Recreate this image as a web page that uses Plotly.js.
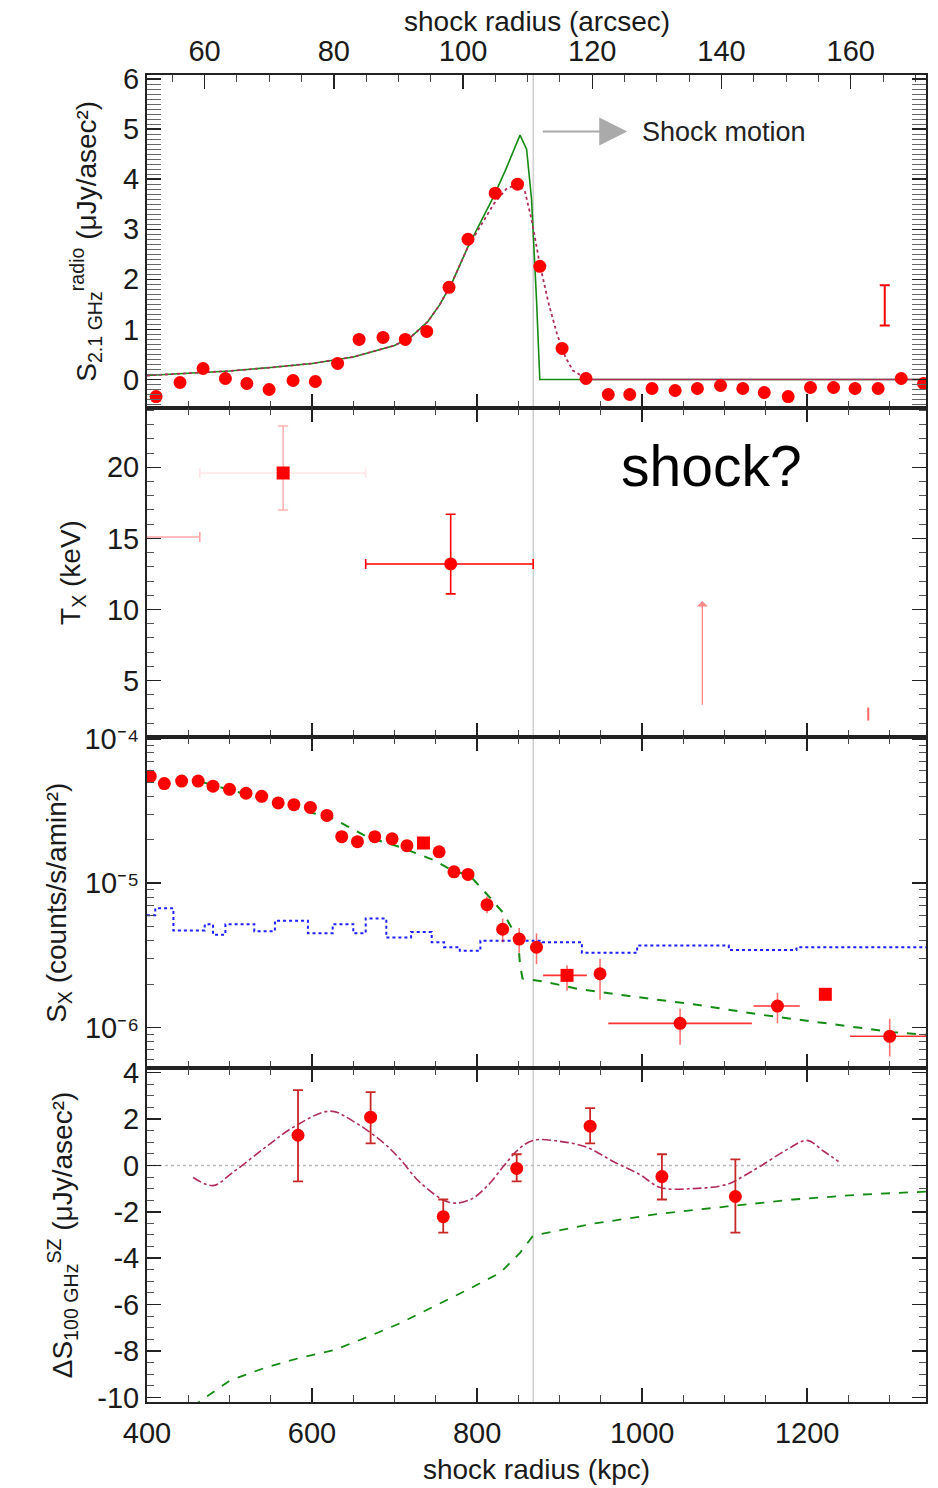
<!DOCTYPE html>
<html>
<head>
<meta charset="utf-8">
<script src="https://cdn.plot.ly/plotly-3.0.1.min.js"></script>
<style>
  html, body { margin: 0; padding: 0; background: #fff; }
  #chart { width: 938px; height: 1488px; }
</style>
</head>
<body>
<div id="chart"></div>
<script>
// ---------------- data ----------------
const kpcPerArcsec = 7.83;
const shockRadius = 868;             // kpc, vertical marker
const xRange = [400, 1344];

// Panel 1: radio surface brightness
const radX = [411,440,468,495,521,548,577,604,631,657,686,713,739,766,789,822,849,876,903,932,959,985,1012,1040,1067,1095,1122,1148,1177,1204,1232,1258,1286,1314,1341];
const radY = [-0.34,-0.06,0.22,0.02,-0.08,-0.2,-0.02,-0.04,0.32,0.80,0.84,0.80,0.96,1.84,2.8,3.72,3.9,2.26,0.62,0.02,-0.3,-0.3,-0.18,-0.22,-0.18,-0.12,-0.18,-0.26,-0.34,-0.16,-0.16,-0.18,-0.18,0.02,-0.08];
const radModX = [400,450,500,550,600,650,700,720,740,755,770,789,805,820,835,852,860,866,872,876,1344];
const radModY = [0.08,0.12,0.17,0.24,0.32,0.45,0.68,0.85,1.15,1.5,1.95,2.65,3.15,3.65,4.2,4.88,4.6,3.6,1.6,0,0];
const radConvX = [400,450,500,550,600,650,700,720,740,755,770,789,805,820,835,848,858,866,876,887,897,907,916,932];
const radConvY = [0.08,0.12,0.17,0.24,0.32,0.45,0.68,0.85,1.15,1.5,1.95,2.65,3.1,3.5,3.8,3.9,3.75,3.2,2.3,1.5,0.9,0.45,0.18,0.02];
const radFlatX = [932,1344];
const radFlatY = [0,0];
const radErrX = [1294];
const radErrY = [1.48];
const radErr = [0.4];

// Panel 2: temperature
const txX  = [340, 565, 768];
const txY  = [15.1, 19.6, 13.2];
const txXm = [0, 101, 103];
const txXp = [124, 100, 100];
const txYm = [0, 2.6, 2.1];
const txYp = [0, 3.3, 3.5];
const txSym = ['circle','square','circle'];
const txXcol = ['rgba(255,0,0,0.35)','rgba(255,0,0,0.10)','rgb(255,0,0)'];
const txYcol = ['rgba(255,0,0,0.35)','rgba(255,0,0,0.30)','rgb(255,0,0)'];
const ulX = [1073], ulLo = [2.7], ulHi = [10.6];
const limX = [1274], limLo = [2.2], limHi = [3.1];

// Panel 3: X-ray surface brightness
const sxX = [404,421,442,462,480,500,520,539,559,578,598,618,636,655,676,697,715,735,754,772,789,812,831,851,872,909,949,1046,1164,1222,1300];
const sxY = [5.5e-5,4.9e-5,5.1e-5,5.1e-5,4.7e-5,4.47e-5,4.2e-5,4.0e-5,3.6e-5,3.5e-5,3.35e-5,2.95e-5,2.1e-5,1.94e-5,2.1e-5,2.03e-5,1.82e-5,1.9e-5,1.65e-5,1.2e-5,1.15e-5,7.1e-6,4.8e-6,4.1e-6,3.6e-6,2.3e-6,2.36e-6,1.07e-6,1.41e-6,1.70e-6,8.7e-7];
const sxUp = [null,null,null,null,null,null,null,null,null,null,null,null,null,null,null,null,null,null,null,null,null,8.1e-6,5.7e-6,4.9e-6,4.5e-6,2.7e-6,3.0e-6,1.35e-6,1.74e-6,null,1.15e-6];
const sxDn = [null,null,null,null,null,null,null,null,null,null,null,null,null,null,null,null,null,null,null,null,null,6.2e-6,3.9e-6,3.3e-6,2.75e-6,1.8e-6,1.56e-6,7.6e-7,1.07e-6,null,6.3e-7];
const sxXlo = [null,null,null,null,null,null,null,null,null,null,null,null,null,null,null,null,null,null,null,null,null,null,null,null,null,880,null,959,1135,null,1252];
const sxXhi = [null,null,null,null,null,null,null,null,null,null,null,null,null,null,null,null,null,null,null,null,null,null,null,null,null,933,null,1133,1191,null,1348];
const sxSquare = [17, 25, 29];
const sxModX = [468,504,545,585,626,667,707,747,773,790,816,832,842,850,852,855,880,921,982,1062,1143,1224,1304,1344];
const sxModY = [5.0e-5,4.37e-5,3.8e-5,3.24e-5,2.8e-5,2.09e-5,1.78e-5,1.45e-5,1.2e-5,1.15e-5,7.9e-6,6.2e-6,4.9e-6,3.8e-6,2.75e-6,2.19e-6,2.09e-6,1.86e-6,1.66e-6,1.45e-6,1.23e-6,1.07e-6,9.3e-7,8.9e-7];
const bgX = [400,410,432,470,480,495,530,555,595,625,650,665,690,720,745,760,779,804,879,927,994,1105,1187,1344];
const bgY = [6.0e-6,6.7e-6,4.7e-6,5.2e-6,4.4e-6,5.2e-6,4.65e-6,5.5e-6,4.5e-6,5.2e-6,4.5e-6,5.7e-6,4.2e-6,4.6e-6,3.9e-6,3.6e-6,3.4e-6,4.0e-6,3.9e-6,3.3e-6,3.7e-6,3.45e-6,3.6e-6,3.6e-6];

// Panel 4: SZ decrement
const szX  = [583,671,759,848,937,1024,1113];
const szY  = [1.30,2.08,-2.21,-0.13,1.69,-0.48,-1.34];
const szHi = [3.25,3.16,-1.47,0.48,2.47,0.48,0.26];
const szLo = [-0.69,0.95,-2.9,-0.69,0.95,-1.47,-2.9];
const szModX = [456,480,504,545,577,622,650,686,707,731,767,792,812,832,850,868,900,933,965,997,1022,1062,1103,1122,1143,1176,1200,1220,1238];
const szModY = [-0.52,-0.87,-0.3,0.82,1.64,2.34,1.9,0.99,0.26,-0.74,-1.6,-1.47,-0.9,-0.04,0.69,1.08,1.04,0.78,0.17,-0.39,-0.95,-1.0,-0.82,-0.48,-0.04,0.69,1.08,0.61,0.17];
const szGrX = [455,501,545,585,626,667,707,747,788,828,852,867,873,941,1022,1103,1183,1264,1344];
const szGrY = [-10.4,-9.26,-8.7,-8.3,-7.97,-7.4,-6.8,-6.1,-5.37,-4.63,-3.77,-3.07,-2.99,-2.51,-2.08,-1.77,-1.47,-1.26,-1.13];
const zeroX = [400,1344], zeroY = [0,0];

const kpcTicks = [400,600,800,1000,1200];
const arcTicks = [60,80,100,120,140,160];
const radTicks = [0,1,2,3,4,5,6];
const txTicks = [5,10,15,20];
const sxTickVals = [1e-6,1e-5,1e-4];
const sxTickText = ['10⁻⁶','10⁻⁵','10⁻⁴'];
const szTicks = [-10,-8,-6,-4,-2,0,2,4];

// ---------------- styles ----------------
const RED = '#ff0000';
const GREEN = 'rgb(20,140,20)';
const PURPLE = 'rgb(175,45,95)';
const BLUE = 'rgb(30,30,255)';
const FONT = 'Liberation Sans, Arial, Helvetica, sans-serif';

const traces = [];

// Panel 1
traces.push({x: radModX, y: radModY, xaxis:'x', yaxis:'y', mode:'lines', line:{color:GREEN, width:1.6}, hoverinfo:'skip'});
traces.push({x: radConvX, y: radConvY, xaxis:'x', yaxis:'y', mode:'lines', line:{color:PURPLE, width:1.8, dash:'dot'}, hoverinfo:'skip'});
traces.push({x: radFlatX, y: radFlatY, xaxis:'x', yaxis:'y', mode:'lines', line:{color:PURPLE, width:1.6}, hoverinfo:'skip'});
traces.push({x: radX, y: radY, xaxis:'x', yaxis:'y', mode:'markers', marker:{color:RED, size:13, symbol:'circle'}});
traces.push({x: radErrX, y: radErrY, xaxis:'x', yaxis:'y', mode:'markers', marker:{size:1, color:'rgba(0,0,0,0)'},
  error_y:{type:'data', array: radErr, color:RED, thickness:2, width:5}});
// dummy for top arcsec axis
traces.push({x: arcTicks, y: arcTicks.map(()=>null), xaxis:'x5', yaxis:'y', mode:'markers', hoverinfo:'skip'});

// Panel 2
txX.forEach((_, i) => {
  traces.push({x: [txX[i]], y: [txY[i]], xaxis:'x2', yaxis:'y2', mode:'markers',
    marker:{color:RED, size:13, symbol: txSym[i]},
    error_x:{type:'data', symmetric:false, array:[txXp[i]], arrayminus:[txXm[i]], color:txXcol[i], thickness:1.6, width:5},
    error_y:{type:'data', symmetric:false, array:[txYp[i]], arrayminus:[txYm[i]], color:txYcol[i], thickness:1.6, width:5}});
});
traces.push({x: limX, y: limX.map((_,i)=>(limLo[i]+limHi[i])/2), xaxis:'x2', yaxis:'y2', mode:'markers',
  marker:{size:1, color:'rgba(0,0,0,0)'},
  error_y:{type:'data', array: limX.map((_,i)=>(limHi[i]-limLo[i])/2), color:'rgba(255,0,0,0.6)', thickness:2, width:0}});

// Panel 3
traces.push({x: bgX, y: bgY, xaxis:'x3', yaxis:'y3', mode:'lines', line:{color:BLUE, width:2, dash:'dot', shape:'hv'}, hoverinfo:'skip'});
traces.push({x: sxModX, y: sxModY, xaxis:'x3', yaxis:'y3', mode:'lines', line:{color:GREEN, width:2, dash:'dash'}, hoverinfo:'skip'});
traces.push({x: sxX, y: sxY, xaxis:'x3', yaxis:'y3', mode:'markers',
  marker:{color:RED, size:13, symbol: sxX.map((_,i)=> sxSquare.includes(i) ? 'square' : 'circle')},
  error_y:{type:'data', symmetric:false, array: sxY.map((v,i)=> sxUp[i]==null ? 0 : sxUp[i]-v), arrayminus: sxY.map((v,i)=> sxDn[i]==null ? 0 : v-sxDn[i]),
    color:'rgba(255,0,0,0.55)', thickness:1.6, width:0},
  error_x:{type:'data', symmetric:false, array: sxX.map((v,i)=> sxXhi[i]==null ? 0 : sxXhi[i]-v), arrayminus: sxX.map((v,i)=> sxXlo[i]==null ? 0 : v-sxXlo[i]),
    color:'rgba(255,0,0,0.8)', thickness:1.6, width:0}});

// Panel 4
traces.push({x: zeroX, y: zeroY, xaxis:'x4', yaxis:'y4', mode:'lines', line:{color:'#bbbbbb', width:1.5, dash:'dot'}, hoverinfo:'skip'});
traces.push({x: szGrX, y: szGrY, xaxis:'x4', yaxis:'y4', mode:'lines', line:{color:GREEN, width:1.8, dash:'dash'}, hoverinfo:'skip'});
traces.push({x: szModX, y: szModY, xaxis:'x4', yaxis:'y4', mode:'lines', line:{color:PURPLE, width:1.6, dash:'dashdot', shape:'spline'}, hoverinfo:'skip'});
traces.push({x: szX, y: szY, xaxis:'x4', yaxis:'y4', mode:'markers', marker:{color:RED, size:13},
  error_y:{type:'data', symmetric:false, array: szY.map((v,i)=>szHi[i]-v), arrayminus: szY.map((v,i)=>v-szLo[i]),
    color:'rgb(200,40,40)', thickness:1.8, width:5}});

// ---------------- layout ----------------
const tickFont = {family: FONT, size: 29, color: '#1a1a1a'};
const titleFont = {family: FONT, size: 28, color: '#1a1a1a'};
const minorX = {ticks:'inside', ticklen:7, tickwidth:1, tickcolor:'#444', dtick:50};
function ax(extra) {
  return Object.assign({
    showline:true, linecolor:'#222', linewidth:2, mirror:'allticks',
    ticks:'inside', ticklen:14, tickwidth:1.5, tickcolor:'#222',
    showgrid:false, zeroline:false, tickfont: tickFont,
    minor:{ticks:'inside', ticklen:7, tickwidth:1, tickcolor:'#555', showgrid:false}
  }, extra);
}
const b1 = 0.7494, b2 = 0.5008, b3 = 0.2517;

const layout = {
  width: 938, height: 1488,
  margin: {l:147, r:12, t:75, b:86},
  paper_bgcolor:'#fff', plot_bgcolor:'#fff',
  showlegend:false,
  font:{family: FONT, color:'#1a1a1a'},
  xaxis:  ax({anchor:'y',  range:xRange, tickvals:kpcTicks, showticklabels:false, mirror:false, minor:minorX}),
  xaxis2: ax({anchor:'y2', matches:'x', tickvals:kpcTicks, showticklabels:false, minor:minorX}),
  xaxis3: ax({anchor:'y3', matches:'x', tickvals:kpcTicks, showticklabels:false, minor:minorX}),
  xaxis4: ax({anchor:'y4', matches:'x', tickvals:kpcTicks, ticktext:kpcTicks.map(String), mirror:'allticks',
    ticklabelstandoff:4, minor:minorX,
    title:{text:'shock radius (kpc)', font:titleFont, standoff:12}}),
  xaxis5: ax({anchor:'y', overlaying:'x', side:'top', mirror:false, range:[xRange[0]/kpcPerArcsec, xRange[1]/kpcPerArcsec],
    tickvals:arcTicks, ticktext:arcTicks.map(String),
    minor:{ticks:'inside', ticklen:7, tickwidth:1, tickcolor:'#444', dtick:5}}),
  yaxis:  ax({domain:[b1,1], anchor:'x', range:[-0.56, 6.08], tickvals:radTicks, ticktext:radTicks.map(String),
    minor:{ticks:'inside', ticklen:6, tickwidth:1, tickcolor:'#666', dtick:0.1},
    title:{text:'S<sub>2.1 GHz</sub><sup>radio</sup> (μJy/asec²)', font:titleFont, standoff:18}}),
  yaxis2: ax({domain:[b2,b1], anchor:'x2', range:[1, 24.2], tickvals:txTicks, ticktext:txTicks.map(String),
    minor:{ticks:'inside', ticklen:7, tickwidth:1, tickcolor:'#555', dtick:1},
    title:{text:'T<sub>X</sub> (keV)', font:titleFont, standoff:18}}),
  yaxis3: ax({domain:[b3,b2], anchor:'x3', type:'log', range:[-6.28, -3.99], tickvals:sxTickVals, ticktext:sxTickText,
    minor:{ticks:'inside', ticklen:7, tickwidth:1, tickcolor:'#555', dtick:'D1'},
    title:{text:'S<sub>X</sub> (counts/s/amin²)', font:titleFont, standoff:10}}),
  yaxis4: ax({domain:[0,b3], anchor:'x4', range:[-10.2, 4.2], tickvals:szTicks, ticktext:szTicks.map(String),
    minor:{ticks:'inside', ticklen:7, tickwidth:1, tickcolor:'#555', dtick:0.5},
    title:{text:'ΔS<sub>100 GHz</sub><sup>SZ</sup> (μJy/asec²)', font:titleFont, standoff:16}}),
  shapes: [
    {type:'line', xref:'x', yref:'paper', x0:shockRadius, x1:shockRadius, y0:0, y1:1, layer:'below',
     line:{color:'#c8c8c8', width:1.3}}
  ],
  annotations: [
    {xref:'paper', yref:'paper', x:0.5, y:1.040, text:'shock radius (arcsec)', showarrow:false,
     xanchor:'center', yanchor:'middle', font:titleFont},
    {xref:'x', yref:'y', axref:'x', ayref:'y', x:982, y:4.95, ax:876, ay:4.95, text:' ', showarrow:true,
     arrowhead:2, arrowsize:2.8, arrowwidth:2, arrowcolor:'#aaaaaa'},
    {xref:'x', yref:'y', x:997, y:4.95, text:'Shock motion', showarrow:false, xanchor:'left', yanchor:'middle',
     font:{family:FONT, size:27, color:'#222'}},
    {xref:'x2', yref:'y2', x:1084, y:20.1, text:'shock?', showarrow:false, xanchor:'center', yanchor:'middle',
     font:{family:FONT, size:57, color:'#000'}},
    ...ulX.map((v,i)=>({xref:'x2', yref:'y2', axref:'x2', ayref:'y2', x:v, y:ulHi[i], ax:v, ay:ulLo[i], text:' ', showarrow:true,
     arrowhead:1, arrowsize:1.4, arrowwidth:1.3, arrowcolor:'rgba(255,60,60,0.6)'}))
  ]
};

Plotly.newPlot('chart', traces, layout, {staticPlot:true, displayModeBar:false});
</script>
</body>
</html>
